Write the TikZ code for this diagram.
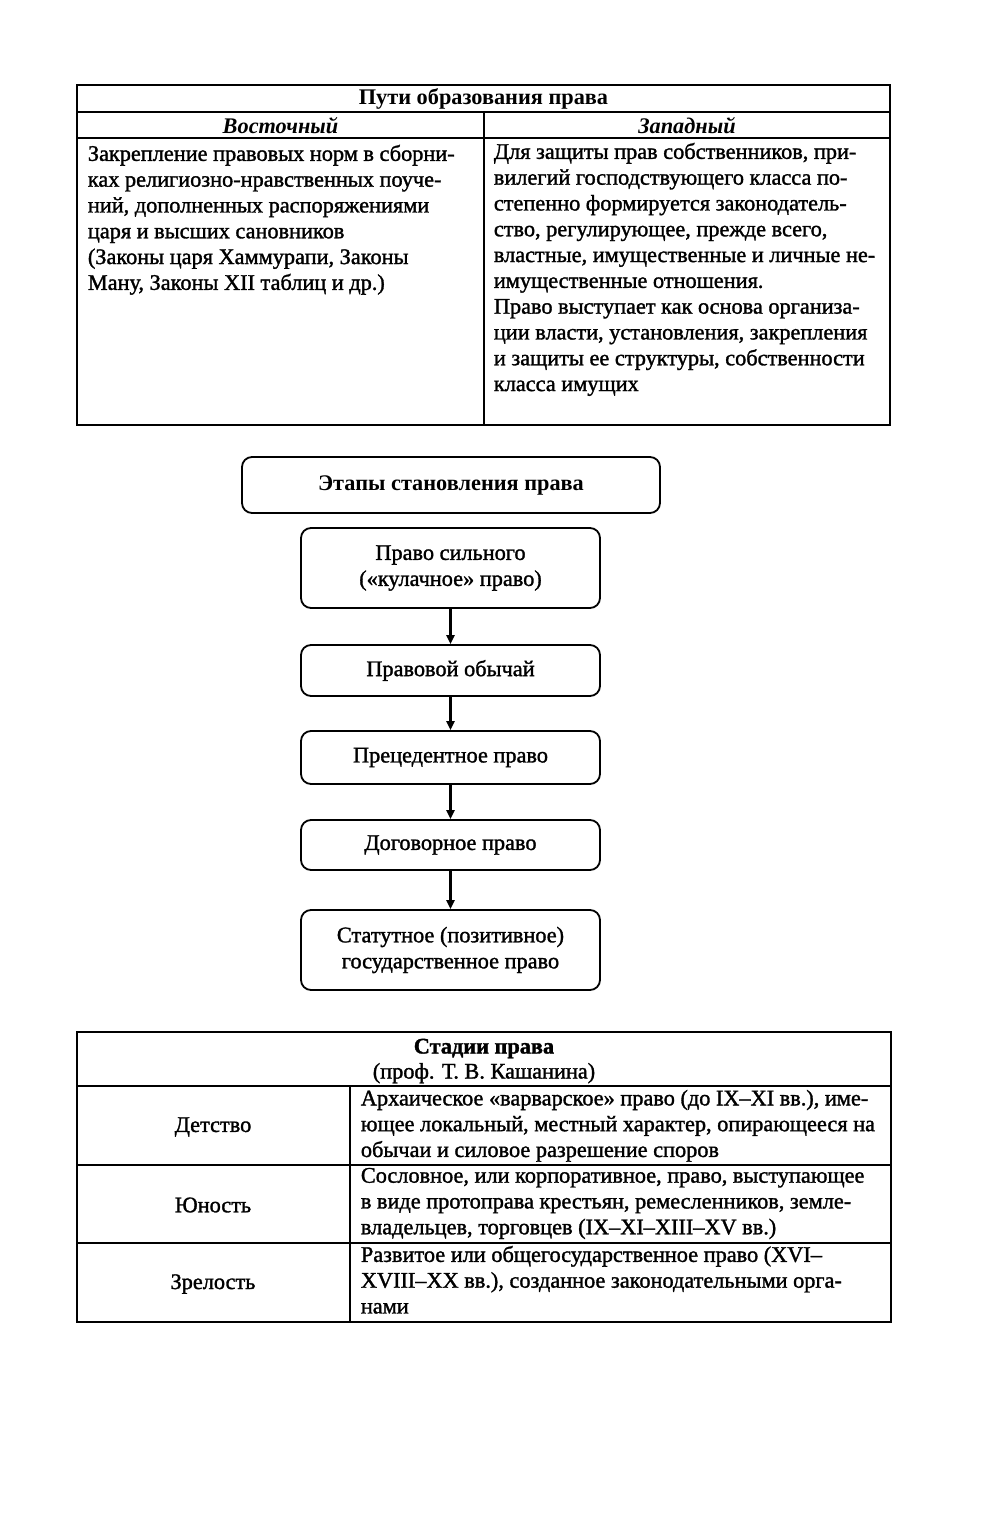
\documentclass[tikz,border=0pt]{standalone}
\usepackage{fontspec}
\setmainfont{Liberation Serif}
\newfontfamily\heavy{Liberation Serif}[FakeBold=1.4]
\usetikzlibrary{arrows.meta}
\begin{document}
\begin{tikzpicture}[x=1pt,y=-1pt,line width=1.8pt,
  bodytext/.style={anchor=north west,inner sep=0pt,align=left,font=\heavy\fontsize{22.3}{25.8}\selectfont},
  celltext/.style={inner sep=0pt,align=center,font=\heavy\fontsize{22.3}{25.8}\selectfont},
  headtext/.style={inner sep=0pt,font=\bfseries\fontsize{22.3}{25}\selectfont},
  stagebox/.style={draw,rounded corners=10pt,minimum width=299pt,align=center,inner sep=0pt,font=\heavy\fontsize{22.3}{26}\selectfont},
  flowarrow/.style={-{Triangle[length=9pt,width=8pt]},line width=2.4pt}]
\useasboundingbox (0,0) rectangle (1000,1536);
\fill[white] (0,0) rectangle (1000,1536);
% ---------- table 1
\draw (77,85) rectangle (890,425);
\draw (77,112) -- (890,112);
\draw (77,138) -- (890,138);
\draw (484,112) -- (484,425);
\node[headtext] (t1h) at (483.5,99) {Пути образования права};
\node[headtext,font=\bfseries\itshape\fontsize{22.3}{25}\selectfont] (t1e) at (280.5,126) {Восточный};
\node[headtext,font=\bfseries\itshape\fontsize{22.3}{25}\selectfont] (t1w) at (687,126) {Западный};
\node[bodytext] (t1l) at (87,144) {Закрепление правовых норм в сборни-\\ках религиозно-нравственных поуче-\\ний, дополненных распоряжениями\\царя и высших сановников\\(Законы царя Хаммурапи, Законы\\Ману, Законы XII таблиц и др.)};
\node[bodytext] (t1r) at (493,142) {Для защиты прав собственников, при-\\вилегий господствующего класса по-\\степенно формируется законодатель-\\ство, регулирующее, прежде всего,\\властные, имущественные и личные не-\\имущественные отношения.\\Право выступает как основа организа-\\ции власти, установления, закрепления\\и защиты ее структуры, собственности\\класса имущих};
% ---------- flow
\node[draw,rounded corners=10pt,minimum width=418pt,minimum height=56pt,inner sep=0pt,font=\bfseries\fontsize{22.3}{25}\selectfont] (fh) at (451,485) {Этапы становления права};
\node[stagebox,minimum height=80pt] (s1) at (450.5,568) {Право сильного\\(«кулачное» право)};
\node[stagebox,minimum height=51pt] (s2) at (450.5,670.5) {Правовой обычай};
\node[stagebox,minimum height=53pt] (s3) at (450.5,757.5) {Прецедентное право};
\node[stagebox,minimum height=50pt] (s4) at (450.5,845) {Договорное право};
\node[stagebox,minimum height=80pt] (s5) at (450.5,950) {Статутное (позитивное)\\государственное право};
\draw[flowarrow] (s1) -- (s2);
\draw[flowarrow] (s2) -- (s3);
\draw[flowarrow] (s3) -- (s4);
\draw[flowarrow] (s4) -- (s5);
% ---------- table 3
\draw (77,1032) rectangle (891,1322);
\draw (77,1086) -- (891,1086);
\draw (77,1165) -- (891,1165);
\draw (77,1243) -- (891,1243);
\draw (350,1086) -- (350,1322);
\node[headtext,align=center,font=\heavy\fontsize{22.3}{25}\selectfont] (t3h) at (484,1061) {{\bfseries Стадии права}\\(проф. Т. В. Кашанина)};
\node[celltext] (c1) at (213,1127) {Детство};
\node[celltext] (c2) at (213,1205) {Юность};
\node[celltext] (c3) at (213,1284) {Зрелость};
\node[bodytext] (d1) at (360,1089) {Архаическое «варварское» право (до IX–XI вв.), име-\\ющее локальный, местный характер, опирающееся на\\обычаи и силовое разрешение споров};
\node[bodytext] (d2) at (360,1167) {Сословное, или корпоративное, право, выступающее\\в виде протоправа крестьян, ремесленников, земле-\\владельцев, торговцев (IX–XI–XIII–XV вв.)};
\node[bodytext] (d3) at (360,1245) {Развитое или общегосударственное право (XVI–\\XVIII–XX вв.), созданное законодательными орга-\\нами};
\end{tikzpicture}
\end{document}
